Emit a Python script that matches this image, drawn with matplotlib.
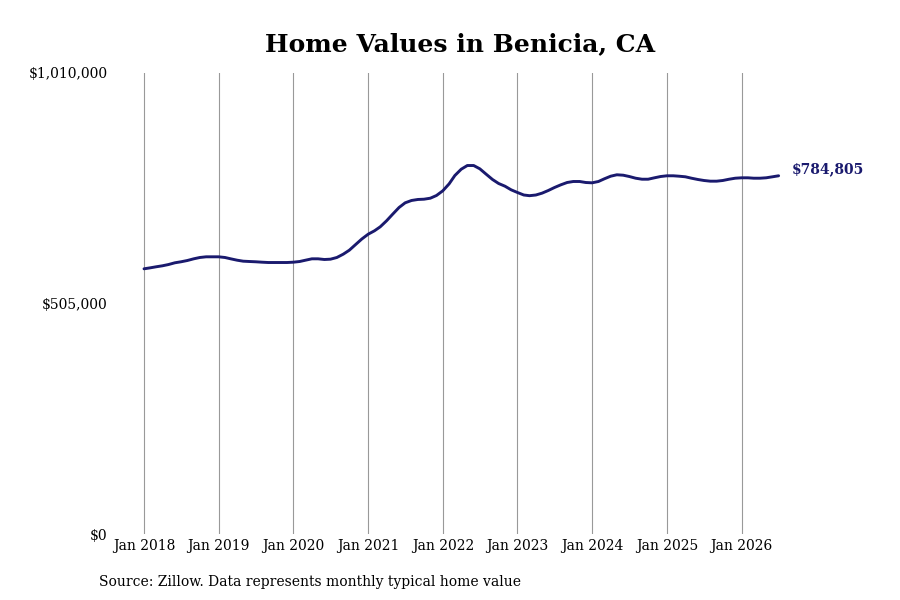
import matplotlib
matplotlib.use("Agg")
import matplotlib.pyplot as plt
import matplotlib.dates as mdates
from matplotlib.ticker import FixedLocator
import pandas as pd

title = "Home Values in Benicia, CA"
source_note = "Source: Zillow. Data represents monthly typical home value"

start_month = "2018-01-01"
values = [
    # 2018
    581000, 583200, 585400, 587600, 590400, 594200, 596400, 599200, 602900, 605800, 607300, 607300,
    # 2019
    607300, 605800, 602900, 599900, 597700, 597000, 596400, 595500, 594800, 594800, 594800, 594800,
    # 2020
    595500, 597000, 599900, 602900, 602900, 601400, 602100, 605800, 613000, 621800, 634300, 646300,
    # 2021
    656800, 664300, 673000, 686200, 700700, 715300, 725600, 730700, 732900, 733500, 735700, 741600,
    # 2022
    751900, 767200, 785400, 799200, 807300, 807300, 800100, 788300, 776700, 767900, 762000, 754100,
    # 2023
    748200, 742700, 741200, 742700, 746700, 752600, 759100, 765000, 770100, 772300, 772300, 770100,
    # 2024
    769400, 772300, 778200, 783900, 787000, 786100, 783200, 779500, 777300, 777300, 780400, 783200,
    # 2025
    784800, 784800, 783900, 782600, 779500, 776700, 774500, 773000, 773000, 774500, 777300, 779500,
    # 2026
    780400, 780400, 779500, 779500, 780400, 782600, 784805,
]
dates = pd.date_range(start_month, periods=len(values), freq="MS")

tick_years = [2018, 2019, 2020, 2021, 2022, 2023, 2024, 2025, 2026]
tick_labels = [f"Jan {y}" for y in tick_years]
y_ticks = [0, 505000, 1010000]
y_tick_labels = ["$0", "$505,000", "$1,010,000"]
end_label = "$784,805"

line_color = "#1a1a6e"

plt.rcParams["font.family"] = ["DejaVu Serif"]

fig = plt.figure(figsize=(9, 6), dpi=100)
ax = fig.add_axes([115 / 900, 66 / 600, (800 - 115) / 900, (534 - 73) / 600])

ax.plot(dates, values, color=line_color, linewidth=2.1, solid_capstyle="round")

tick_dates = [pd.Timestamp(f"{y}-01-01") for y in tick_years]
tick_nums = mdates.date2num(tick_dates)
ax.xaxis.set_major_locator(FixedLocator(tick_nums))
ax.set_xticklabels(tick_labels, fontsize=10)

days_per_px = 365.25 / 74.7
x0 = mdates.date2num(pd.Timestamp("2018-01-01"))
ax.set_xlim(x0 - 29 * days_per_px, x0 + (800 - 144) * days_per_px)
ax.set_ylim(0, 1010000)
ax.set_yticks(y_ticks)
ax.set_yticklabels(y_tick_labels, fontsize=10)

ax.grid(axis="x", color="#999999", linewidth=0.8)
ax.grid(axis="y", visible=False)
ax.tick_params(axis="both", length=0)
ax.tick_params(axis="x", pad=3.5)
ax.tick_params(axis="y", pad=5.3)
for s in ax.spines.values():
    s.set_visible(False)

ax.annotate(end_label, xy=(dates[-1], values[-1]), xytext=(9.7, 4.5),
            textcoords="offset points", fontsize=10, fontweight="bold",
            color=line_color, va="center", ha="left")

fig.text(460 / 900, 1 - 44 / 600, title, fontsize=18, fontweight="bold",
         ha="center", va="center")
fig.text(99 / 900, 1 - 582 / 600, source_note, fontsize=10, ha="left", va="center")

fig.savefig("out.png", dpi=100)
